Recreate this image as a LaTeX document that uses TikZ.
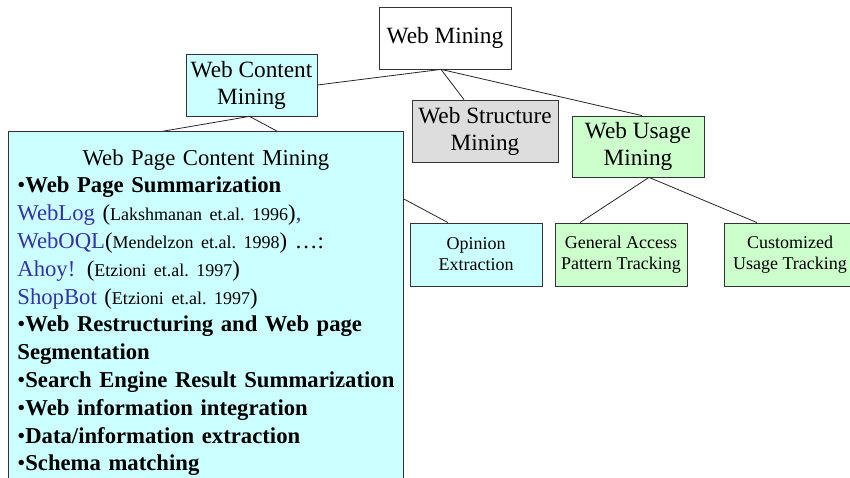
\documentclass[tikz,border=0pt]{standalone}
\usepackage{fontspec}
\setmainfont{Liberation Serif}
\definecolor{cyanbox}{HTML}{CCFFFF}
\definecolor{greenbox}{HTML}{CCFFCC}
\definecolor{graybox}{HTML}{DDDDDD}
\definecolor{toolblue}{HTML}{3333AA}
\tikzset{
  box/.style={draw=black!80, line width=0.8pt, inner sep=0pt, align=center,
    minimum width=132pt, minimum height=62pt},
  link/.style={draw=black!85, line width=0.8pt},
  big/.style={font=\fontsize{23.3}{27}\selectfont},
  mid/.style={font=\fontsize{23.3}{27}\selectfont},
  small/.style={font=\fontsize{18}{21}\selectfont},
  page/.style={font=\fontsize{22.7}{27.8}\selectfont}
}
\newcommand{\tool}[1]{\textcolor{toolblue}{#1}}
\newcommand{\refnote}[1]{{\fontsize{18}{27}\selectfont #1}}
\begin{document}
\begin{tikzpicture}[x=1pt,y=-1pt]
		\useasboundingbox (0,0) rectangle (850,478);
		% top level
		\node[box,big] (wm) at (445,38) {Web Mining};
		\node[box,mid,fill=cyanbox,minimum width=131pt] (wcm) at (251.5,85) {Web Content\\Mining};
		\node[box,mid,fill=graybox,minimum width=146pt] (wsm) at (485,131) {Web Structure\\Mining};
		\node[box,mid,fill=greenbox,minimum height=61pt] (wum) at (638,146.5) {Web Usage\\Mining};
		% second level
		\node[box,small,fill=cyanbox,minimum height=63pt] (opx) at (476,254.5) {Opinion\\Extraction};
		\node[box,small,fill=greenbox,minimum height=63pt] (gapt) at (621,254.5) {General Access\\Pattern Tracking};
		\node[box,small,fill=greenbox,minimum height=63pt] (cut) at (790,254.5) {Customized\\Usage Tracking};
		\coordinate (hid) at (100,142);
		% connectors
		\draw[link] ([xshift=-4pt]wm.south) -- (wcm.east);
		\draw[link] ([xshift=-4pt]wm.south) -- ([xshift=-21pt]wsm.north);
		\draw[link] ([xshift=-4pt]wm.south) -- ([xshift=4pt]wum.north);
		\draw[link] ([xshift=11pt]wum.south) -- ([xshift=-41pt]gapt.north);
		\draw[link] ([xshift=11pt]wum.south) -- ([xshift=-33pt]cut.north);
		\draw[link] ([xshift=-2pt]wcm.south) -- (hid);
		\draw[link] ([xshift=-2pt]wcm.south) -- ([xshift=-28pt]opx.north);
		% page content box on top
		\node[draw=black!80, line width=0.8pt, fill=cyanbox, page, anchor=north west,
			inner xsep=9pt, inner ysep=18pt, text width=377pt] (pcm) at (8,131) {%
			\parindent=0pt
			\centering Web Page Content Mining\par
			\raggedright
			\textbullet\textbf{Web Page Summarization}\par
			\tool{WebLog} (\refnote{Lakshmanan et.al.\ 1996})\tool{,}\par
			\tool{WebOQL}(\refnote{Mendelzon et.al.\ 1998}) \ldots:\par
			\tool{Ahoy!} (\refnote{Etzioni et.al.\ 1997})\par
			\tool{ShopBot} (\refnote{Etzioni et.al.\ 1997})\par
			\textbullet\textbf{Web Restructuring and Web page}\newline
			\textbf{Segmentation}\par
			\mbox{\textbullet\textbf{Search Engine Result Summarization}}\par
			\textbullet\textbf{Web information integration}\par
			\textbullet\textbf{Data/information extraction}\par
			\textbullet\textbf{Schema matching}\par};
	\end{tikzpicture}
\end{document}
